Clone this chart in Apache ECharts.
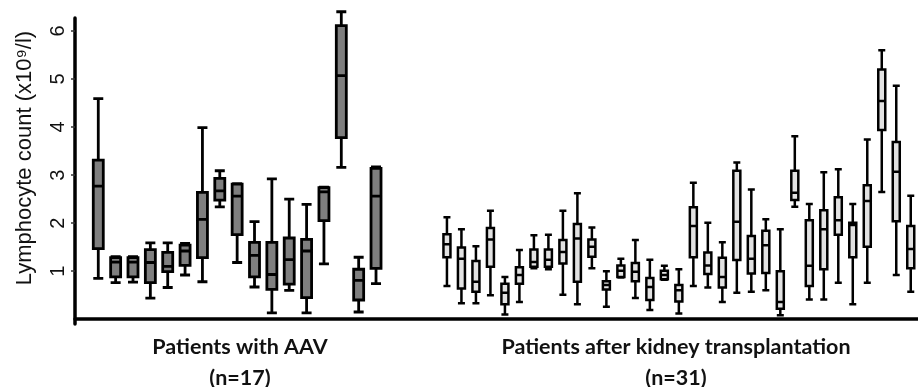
<!DOCTYPE html>
<html>
<head>
<meta charset="utf-8">
<script src="https://cdn.jsdelivr.net/npm/echarts@6/dist/echarts.min.js"></script>
<style>
  html, body { margin: 0; padding: 0; background: #fff; }
  #chart { width: 918px; height: 387px; }
</style>
</head>
<body>
<div id="chart"></div>
<script>
// [min, Q1, median, Q3, max] per patient
const aavBoxes = [
  [0.85, 1.47, 2.77, 3.31, 4.59],
  [0.76, 0.88, 1.19, 1.28, 1.30],
  [0.77, 0.88, 1.19, 1.28, 1.30],
  [0.44, 0.76, 1.18, 1.45, 1.59],
  [0.66, 0.99, 1.10, 1.39, 1.59],
  [0.92, 1.12, 1.42, 1.54, 1.58],
  [0.78, 1.28, 2.08, 2.64, 3.99],
  [2.34, 2.48, 2.67, 2.93, 3.09],
  [1.18, 1.76, 2.56, 2.81, 2.82],
  [0.67, 0.88, 1.33, 1.60, 2.03],
  [0.13, 0.62, 0.93, 1.60, 2.92],
  [0.60, 0.73, 1.24, 1.69, 2.50],
  [0.13, 0.45, 1.42, 1.66, 2.39],
  [1.15, 2.05, 2.65, 2.74, 2.75],
  [3.16, 3.78, 5.07, 6.11, 6.40],
  [0.15, 0.40, 0.81, 1.04, 1.29],
  [0.74, 1.06, 2.56, 3.14, 3.17]
];

const ktxBoxes = [
  [0.69, 1.29, 1.56, 1.77, 2.12],
  [0.33, 0.64, 1.26, 1.49, 1.87],
  [0.33, 0.57, 0.78, 1.21, 1.52],
  [0.50, 1.09, 1.66, 1.90, 2.26],
  [0.10, 0.31, 0.55, 0.74, 0.88],
  [0.36, 0.74, 0.92, 1.08, 1.44],
  [1.06, 1.09, 1.19, 1.45, 1.75],
  [1.04, 1.09, 1.24, 1.45, 1.76],
  [0.51, 1.16, 1.40, 1.65, 2.26],
  [0.31, 0.78, 1.68, 1.98, 2.62],
  [1.06, 1.30, 1.51, 1.66, 1.91],
  [0.26, 0.62, 0.71, 0.79, 1.00],
  [0.87, 0.88, 1.01, 1.12, 1.26],
  [0.44, 0.79, 0.99, 1.17, 1.65],
  [0.19, 0.40, 0.67, 0.86, 1.24],
  [0.82, 0.83, 0.92, 1.01, 1.11],
  [0.12, 0.37, 0.60, 0.71, 1.04],
  [0.69, 1.29, 1.94, 2.33, 2.84],
  [0.66, 0.94, 1.12, 1.39, 2.01],
  [0.36, 0.66, 0.88, 1.28, 1.60],
  [0.55, 1.23, 2.03, 3.09, 3.26],
  [0.57, 0.95, 1.26, 1.73, 2.70],
  [0.60, 0.96, 1.54, 1.84, 2.08],
  [0.08, 0.22, 0.36, 1.00, 1.87],
  [2.34, 2.48, 2.63, 3.09, 3.81],
  [0.41, 0.69, 1.11, 2.06, 2.40],
  [0.41, 1.04, 1.87, 2.27, 3.06],
  [0.76, 1.76, 2.06, 2.54, 3.12],
  [0.31, 1.29, 1.96, 2.01, 2.40],
  [0.76, 1.51, 2.46, 2.79, 3.74],
  [2.65, 3.94, 4.54, 5.20, 5.60],
  [0.92, 2.04, 3.07, 3.69, 4.86],
  [0.57, 1.06, 1.46, 1.94, 2.57]
];

const yTicks = [1, 2, 3, 4, 5, 6];
const yName = 'Lymphocyte count (x10⁹/l)';
const groupLabels = ['Patients with AAV', 'Patients after kidney transplantation'];
const groupCounts = ['(n=17)', '(n=31)'];

const aavNames = aavBoxes.map((_, i) => 'AAV ' + (i + 1));
const ktxNames = ktxBoxes.map((_, i) => 'KTx ' + (i + 1));

const Y_MIN = -0.1;
const Y_MAX = 6.27;
const TOP = 18;
const BOTTOM = 63;

const chart = echarts.init(document.getElementById('chart'), null, { renderer: 'canvas' });

const hiddenY = (gridIndex) => ({
  type: 'value', gridIndex, min: Y_MIN, max: Y_MAX,
  axisLine: { show: false }, axisTick: { show: false },
  axisLabel: { show: false }, splitLine: { show: false }
});
const hiddenX = (gridIndex, data) => ({
  type: 'category', gridIndex, data,
  axisLine: { show: false }, axisTick: { show: false },
  axisLabel: { show: false }, splitLine: { show: false }
});

const labelFont = 'Lato, "Liberation Sans", sans-serif';
const groupText = (x, y, text) => ({
  type: 'text', x, y,
  style: { text, fill: '#111', align: 'center', verticalAlign: 'middle', font: 'bold 21.5px ' + labelFont }
});

chart.setOption({
  backgroundColor: '#ffffff',
  animation: false,
  grid: [
    { left: 75, right: 0, top: TOP, bottom: BOTTOM },
    { left: 89.6, width: 295.1, top: TOP, bottom: BOTTOM },
    { left: 439.7, width: 479.2, top: TOP, bottom: BOTTOM }
  ],
  xAxis: [
    {
      type: 'category', gridIndex: 0, data: [''],
      axisLine: { show: true, lineStyle: { color: '#000', width: 3.5 } },
      axisTick: { show: false }, axisLabel: { show: false }
    },
    hiddenX(1, aavNames),
    hiddenX(2, ktxNames)
  ],
  yAxis: [
    {
      type: 'value', gridIndex: 0, min: Y_MIN, max: Y_MAX,
      axisLine: { show: true, lineStyle: { color: '#000', width: 3.5 } },
      axisTick: { show: true, customValues: yTicks, length: 4, lineStyle: { color: '#333', width: 1.5 } },
      splitLine: { show: false },
      axisLabel: {
        customValues: yTicks,
        rotate: 90,
        margin: 7,
        color: '#111',
        fontSize: 20,
        fontFamily: '"Liberation Sans", Arial, sans-serif'
      }
    },
    hiddenY(1),
    hiddenY(2)
  ],
  series: [
    {
      type: 'boxplot',
      xAxisIndex: 1, yAxisIndex: 1,
      boxWidth: [10, 10],
      itemStyle: { color: '#7f7f7f', borderColor: '#000', borderWidth: 2.8 },
      data: aavBoxes
    },
    {
      type: 'boxplot',
      xAxisIndex: 2, yAxisIndex: 2,
      boxWidth: [7, 7],
      itemStyle: { color: '#e2e2e2', borderColor: '#000', borderWidth: 2.5 },
      data: ktxBoxes
    }
  ],
  graphic: [
    {
      type: 'text', x: 25, y: 158, rotation: Math.PI / 2,
      style: {
        text: yName, fill: '#111', align: 'center', verticalAlign: 'middle',
        font: '22px "Liberation Sans", Arial, sans-serif'
      }
    },
    groupText(240, 347, groupLabels[0]),
    groupText(240, 378, groupCounts[0]),
    groupText(676, 347, groupLabels[1]),
    groupText(676, 378, groupCounts[1])
  ]
});
</script>
</body>
</html>
